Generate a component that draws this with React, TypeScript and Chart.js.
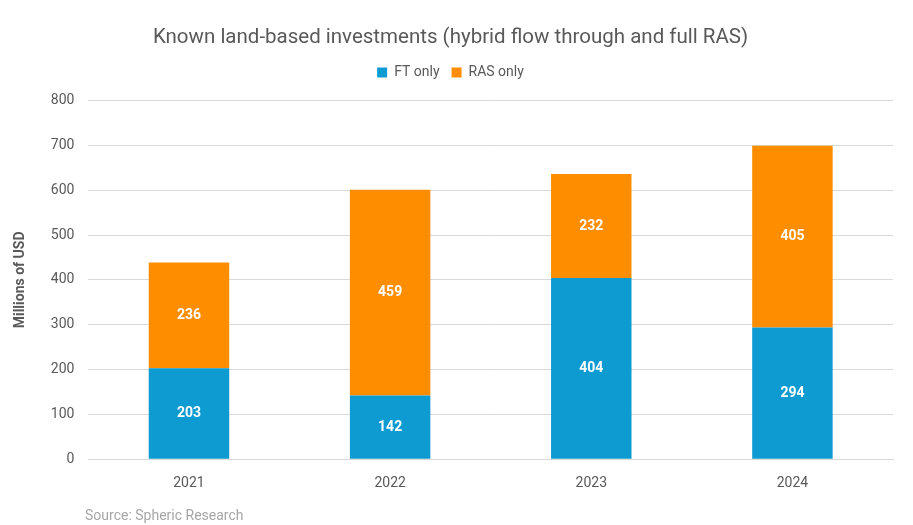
import React, { useEffect, useRef } from "react";
import { Chart, registerables } from "chart.js";

Chart.register(...registerables);

const categories = ["2021", "2022", "2023", "2024"];
const ftOnly = [203, 142, 404, 294];
const rasOnly = [236, 459, 232, 405];
const yTicks = [0, 100, 200, 300, 400, 500, 600, 700, 800];

const FONT = "Roboto, 'Open Sans', sans-serif";
const GREY = "#595959";

const labelPlugin = {
  id: "segLabels",
  afterDatasetsDraw(chart: any) {
    const ctx = chart.ctx;
    ctx.save();
    ctx.fillStyle = "#ffffff";
    ctx.font = `bold 14px ${FONT}`;
    ctx.textAlign = "center";
    ctx.textBaseline = "middle";
    chart.data.datasets.forEach((ds: any, di: number) => {
      const meta = chart.getDatasetMeta(di);
      meta.data.forEach((bar: any, i: number) => {
        const v = ds.data[i];
        const { x, y, base } = bar.getProps(["x", "y", "base"], true);
        ctx.fillText(String(v), x, (y + base) / 2);
      });
    });
    ctx.restore();
  },
};

const legendSpacer = {
  id: "legendSpacer",
  beforeLayout(chart: any) {
    const lg = chart.legend;
    if (lg && !lg._patched) {
      const orig = lg.fit;
      lg.fit = function () {
        orig.call(this);
        this.height += 11;
      };
      lg._patched = true;
    }
  },
};

export default function App() {
  const ref = useRef<HTMLCanvasElement>(null);
  useEffect(() => {
    if (!ref.current) return;
    const chart = new Chart(ref.current, {
      type: "bar",
      data: {
        labels: categories,
        datasets: [
          { label: "FT only", data: ftOnly, backgroundColor: "#0E9BD2", barPercentage: 0.8, categoryPercentage: 0.5 },
          { label: "RAS only", data: rasOnly, backgroundColor: "#FF8D00", barPercentage: 0.8, categoryPercentage: 0.5 },
        ],
      },
      options: {
        animation: false,
        responsive: true,
        maintainAspectRatio: false,
        layout: { padding: { left: 8, right: 20, top: 26, bottom: 25 } },
        plugins: {
          title: {
            display: true,
            text: "Known land-based investments (hybrid flow through and full RAS)",
            color: GREY,
            font: { family: FONT, size: 20.5, weight: "normal" },
            padding: { top: 0, bottom: 3 },
          },
          legend: {
            position: "top",
            labels: {
              color: GREY,
              font: { family: FONT, size: 14 },
              boxWidth: 10,
              boxHeight: 10,
              padding: 12,
            },
          },
          tooltip: { enabled: false },
        },
        scales: {
          x: {
            stacked: true,
            grid: { display: false },
            border: { display: true, color: "#d9d9d9" },
            ticks: { color: GREY, font: { family: FONT, size: 14 }, padding: 8 },
          },
          y: {
            stacked: true,
            min: 0,
            max: 800,
            afterBuildTicks: (axis: any) => {
              axis.ticks = yTicks.map((v) => ({ value: v }));
            },
            grid: { color: "#d9d9d9", drawTicks: false },
            border: { display: false },
            ticks: { color: GREY, font: { family: FONT, size: 14 }, padding: 14 },
            title: {
              display: true,
              text: "Millions of USD",
              color: GREY,
              font: { family: FONT, size: 14, weight: "bold" },
              padding: { bottom: 8 },
            },
          },
        },
      },
      plugins: [labelPlugin, legendSpacer],
    });
    return () => chart.destroy();
  }, []);
  return (
    <div style={{ position: "fixed", left: 0, top: 0, width: 913, height: 525, background: "#fff" }}>
      <canvas ref={ref} />
      <div
        style={{
          position: "absolute",
          left: 85,
          top: 505,
          fontFamily: FONT,
          fontSize: 14,
          color: "#a6a6a6",
          lineHeight: "20px",
        }}
      >
        Source: Spheric Research
      </div>
    </div>
  );
}
